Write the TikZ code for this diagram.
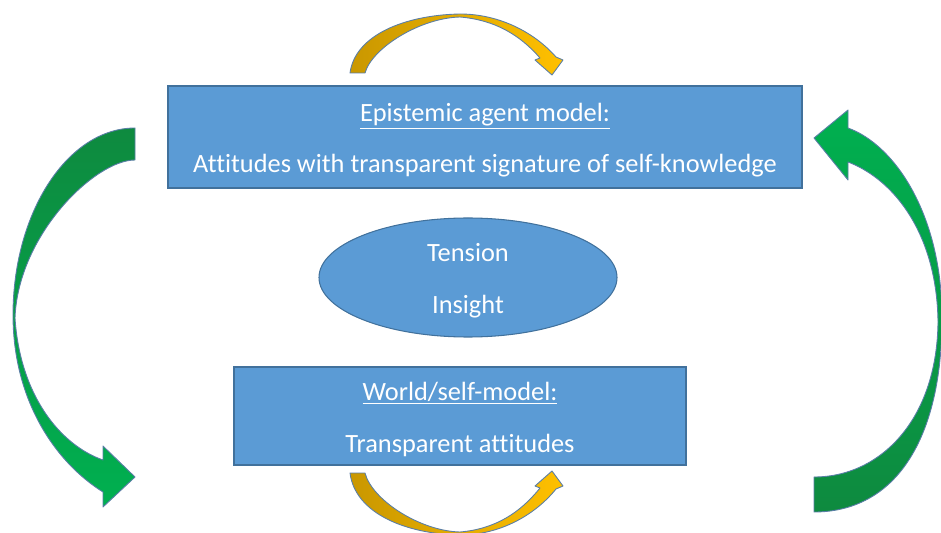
\documentclass[tikz,border=0pt]{standalone}
\usepackage{fontspec}
\setmainfont{Carlito}[Ligatures=NoCommon]
\usetikzlibrary{shapes.geometric}

\definecolor{boxblue}{HTML}{5B9BD5}
\definecolor{boxline}{HTML}{41719C}
\definecolor{arrowline}{HTML}{5A7EA6}
\definecolor{golddark}{HTML}{C99700}
\definecolor{goldlight}{HTML}{FFC000}
\definecolor{greendark}{HTML}{0E8A3F}
\definecolor{greenlight}{HTML}{00B050}

\newcommand{\upperstrut}{\rule{0pt}{14pt}}

\tikzset{
  modelbox/.style={draw=boxline, fill=boxblue, line width=0.6pt, text=white,
    align=center, inner sep=0pt, font=\fontsize{15}{18}\selectfont},
  blockarrow/.style={draw=arrowline, line width=0.5pt, line join=round},
}

\begin{document}
\begin{tikzpicture}
\useasboundingbox (0,0) rectangle (18.820,-10.660);

\node[modelbox, minimum width=12.680cm, minimum height=2.040cm] (agent) at (9.700,-2.740)
  {\upperstrut\underline{Epistemic agent model:}\\[11.5pt]Attitudes with transparent signature of self-knowledge};
\node[modelbox, ellipse, minimum width=5.960cm, minimum height=2.380cm] (insight) at (9.360,-5.550)
  {\upperstrut Tension\\[11.5pt]Insight};
\node[modelbox, minimum width=9.040cm, minimum height=1.960cm] (world) at (9.200,-8.320)
  {\upperstrut\underline{World/self-model:}\\[11.5pt]Transparent attitudes};

\draw[blockarrow, left color=golddark, right color=goldlight]
  (7.000,-1.460) .. controls (7.100,-0.700) and (8.100,-0.300) .. (9.200,-0.280)
  .. controls (10.000,-0.280) and (10.700,-0.660) .. (11.120,-1.140)
  -- (11.260,-1.200) -- (11.040,-1.500) -- (10.700,-1.200) -- (10.800,-1.160)
  .. controls (10.400,-0.700) and (9.900,-0.400) .. (9.200,-0.340)
  .. controls (8.400,-0.360) and (7.440,-0.960) .. (7.300,-1.460) -- cycle;
\draw[blockarrow, left color=golddark, right color=goldlight]
  (7.000,-9.460) .. controls (7.100,-10.260) and (8.100,-10.680) .. (9.200,-10.700)
  .. controls (10.000,-10.700) and (10.700,-10.300) .. (11.120,-9.780)
  -- (11.260,-9.720) -- (11.040,-9.420) -- (10.700,-9.720) -- (10.800,-9.760)
  .. controls (10.400,-10.260) and (9.900,-10.580) .. (9.200,-10.640)
  .. controls (8.400,-10.620) and (7.440,-10.000) .. (7.300,-9.460) -- cycle;

\draw[blockarrow, top color=greendark, bottom color=greenlight]
  (2.700,-2.560) .. controls (1.360,-2.560) and (0.260,-4.240) .. (0.260,-6.300)
  .. controls (0.260,-8.000) and (1.100,-9.240) .. (2.060,-9.840)
  -- (2.060,-10.140) -- (2.700,-9.540) -- (2.060,-8.920) -- (2.060,-9.200)
  .. controls (1.200,-8.900) and (0.400,-7.900) .. (0.300,-6.360)
  .. controls (0.360,-4.700) and (1.900,-3.200) .. (2.700,-3.200) -- cycle;
\draw[blockarrow, bottom color=greendark, top color=greenlight]
  (16.280,-10.240) .. controls (17.900,-10.240) and (18.840,-8.800) .. (18.840,-6.360)
  .. controls (18.840,-4.300) and (17.900,-2.900) .. (16.960,-2.560)
  -- (16.960,-2.200) -- (16.280,-2.760) -- (16.960,-3.600) -- (16.960,-3.240)
  .. controls (17.900,-3.600) and (18.740,-4.700) .. (18.760,-6.440)
  .. controls (18.740,-8.400) and (17.600,-9.540) .. (16.280,-9.540) -- cycle;
\end{tikzpicture}
\end{document}
